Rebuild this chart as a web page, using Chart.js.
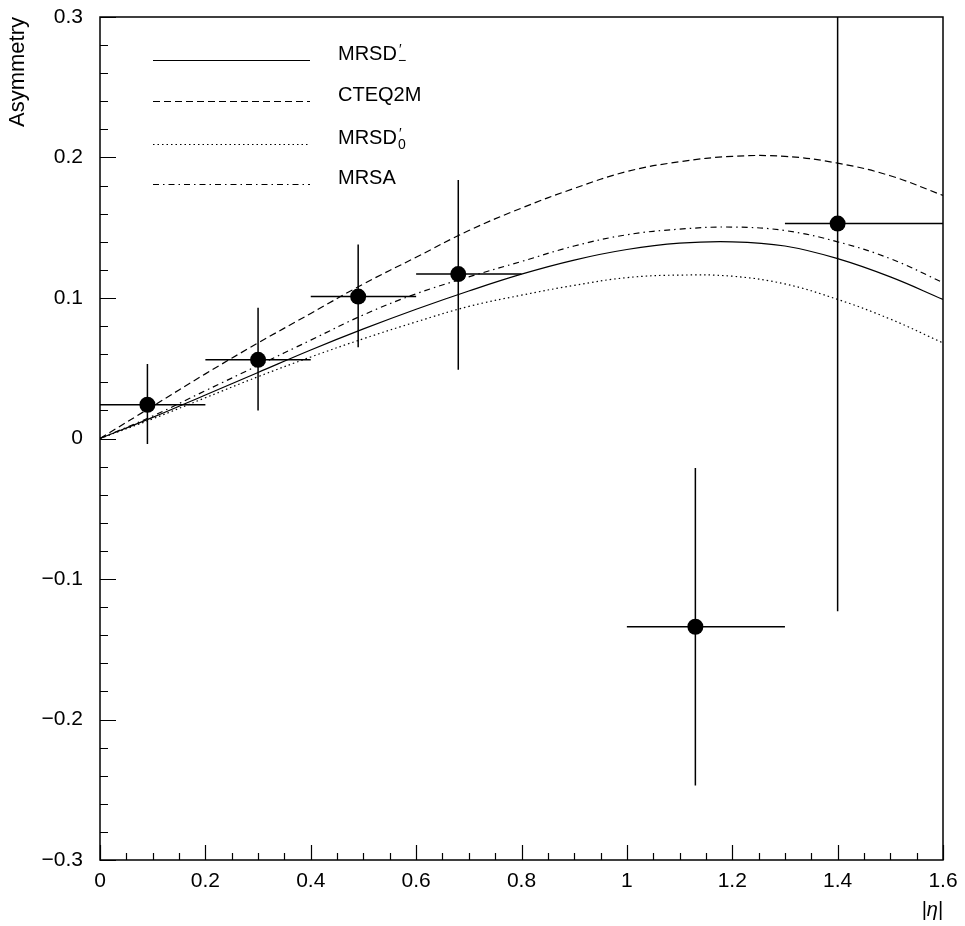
<!DOCTYPE html>
<html>
<head>
<meta charset="utf-8">
<script src="https://cdn.jsdelivr.net/npm/chart.js@4.4.1/dist/chart.umd.min.js"></script>
<style>
  html, body { margin: 0; padding: 0; background: #fff; }
  #wrap { width: 965px; height: 926px; }
</style>
</head>
<body>
<div id="wrap"><canvas id="myChart" width="965" height="926"></canvas></div>
<script>
// Curve grid in |eta|
const etaGrid = [0, 0.1, 0.2, 0.3, 0.4, 0.5, 0.6, 0.7, 0.8, 0.9, 1.0, 1.1, 1.2, 1.3, 1.4, 1.5, 1.6];

// Theory predictions
const mrsdMinus = [0, 0.015, 0.031, 0.047, 0.063, 0.078, 0.092, 0.105, 0.117, 0.127, 0.1345, 0.139, 0.140, 0.137, 0.128, 0.115, 0.099];
const cteq2m    = [0, 0.023, 0.046, 0.068, 0.089, 0.110, 0.129, 0.148, 0.164, 0.178, 0.190, 0.197, 0.2008, 0.2008, 0.196, 0.187, 0.173];
const mrsdZero  = [0, 0.014, 0.029, 0.044, 0.058, 0.071, 0.083, 0.094, 0.102, 0.109, 0.1145, 0.1163, 0.1155, 0.110, 0.099, 0.085, 0.068];
const mrsa      = [0, 0.016, 0.034, 0.052, 0.070, 0.088, 0.103, 0.115, 0.126, 0.137, 0.145, 0.149, 0.1505, 0.148, 0.140, 0.128, 0.111];

// Measured points and errors
const etaPoints = [0.09, 0.30, 0.49, 0.68, 1.13, 1.40];
const asymPoints = [0.024, 0.056, 0.101, 0.117, -0.134, 0.153];
const etaLow  = [0.0, 0.2, 0.4, 0.6, 1.0, 1.3];
const etaHigh = [0.2, 0.4, 0.6, 0.8, 1.3, 1.6];
const asymLow  = [-0.004, 0.020, 0.065, 0.049, -0.247, -0.123];
const asymHigh = [0.053, 0.093, 0.138, 0.184, -0.021, 0.42];

// Tick labels
const xTickValues = [0, 0.2, 0.4, 0.6, 0.8, 1.0, 1.2, 1.4, 1.6];
const xTickLabels = ['0', '0.2', '0.4', '0.6', '0.8', '1', '1.2', '1.4', '1.6'];
const yTickValues = [-0.3, -0.2, -0.1, 0, 0.1, 0.2, 0.3];
const yTickLabels = ['\u22120.3', '\u22120.2', '\u22120.1', '0', '0.1', '0.2', '0.3'];

// Legend text (main, superscript, subscript)
const legendParts = [
    ['MRSD', '\u2032', '\u2212'],
    ['CTEQ2M', '', ''],
    ['MRSD', '\u2032', '0'],
    ['MRSA', '', ''],
];

const FONT = '"Liberation Sans", Arial, sans-serif';

const toXY = (xs, ys) => xs.map((x, i) => ({ x, y: ys[i] }));

const findLabel = (values, labels, v) => {
    const i = values.findIndex(t => Math.abs(t - v) < 1e-6);
    return i >= 0 ? labels[i] : '';
};

const curve = (label, values, dash) => ({
    type: 'line',
    label,
    data: toXY(etaGrid, values),
    borderColor: '#000',
    borderWidth: 1.2,
    borderDash: dash,
    pointRadius: 0,
    fill: false,
    tension: 0.4,
    order: 2,
});

// Error bars, drawn under the markers
const errorBars = {
    id: 'errorBars',
    beforeDatasetsDraw(chart) {
        const { ctx, chartArea, scales: { x, y } } = chart;
        ctx.save();
        ctx.beginPath();
        ctx.rect(chartArea.left, chartArea.top, chartArea.right - chartArea.left, chartArea.bottom - chartArea.top);
        ctx.clip();
        ctx.strokeStyle = '#000';
        ctx.lineWidth = 1.5;
        etaPoints.forEach((eta, i) => {
            const px = x.getPixelForValue(eta);
            const py = y.getPixelForValue(asymPoints[i]);
            ctx.beginPath();
            ctx.moveTo(x.getPixelForValue(etaLow[i]), py);
            ctx.lineTo(x.getPixelForValue(etaHigh[i]), py);
            ctx.moveTo(px, y.getPixelForValue(asymLow[i]));
            ctx.lineTo(px, y.getPixelForValue(asymHigh[i]));
            ctx.stroke();
        });
        ctx.restore();
    }
};

// Frame, inward ticks and legend
const frameAndLegend = {
    id: 'frameAndLegend',
    afterDraw(chart) {
        const { ctx, chartArea: a, scales: { x, y } } = chart;
        ctx.save();
        ctx.strokeStyle = '#000';
        ctx.lineWidth = 1.5;
        ctx.strokeRect(a.left, a.top, a.right - a.left, a.bottom - a.top);

        ctx.lineWidth = 1.2;
        ctx.beginPath();
        x.ticks.forEach(t => {
            const px = Math.round(x.getPixelForValue(t.value)) + 0.5;
            const len = t.label !== '' ? 15 : 7;
            ctx.moveTo(px, a.bottom);
            ctx.lineTo(px, a.bottom - len);
        });
        y.ticks.forEach(t => {
            const py = Math.round(y.getPixelForValue(t.value)) + 0.5;
            const len = t.label !== '' ? 16 : 8;
            ctx.moveTo(a.left, py);
            ctx.lineTo(a.left + len, py);
        });
        ctx.stroke();

        // legend
        const curves = chart.data.datasets.filter(d => d.type === 'line');
        const lineX0 = a.left + 53, lineX1 = a.left + 210, textX = a.left + 238;
        const rowY = [60, 101, 144, 184];
        curves.forEach((d, i) => {
            const yy = rowY[i];
            ctx.beginPath();
            ctx.setLineDash(d.borderDash || []);
            ctx.lineWidth = d.borderWidth;
            ctx.moveTo(lineX0, yy + 0.5);
            ctx.lineTo(lineX1, yy + 0.5);
            ctx.stroke();
            ctx.setLineDash([]);

            const [main, sup, sub] = legendParts[i];
            ctx.fillStyle = '#000';
            ctx.textBaseline = 'alphabetic';
            ctx.textAlign = 'left';
            ctx.font = '20px ' + FONT;
            ctx.fillText(main, textX, yy);
            const w = ctx.measureText(main).width + 1;
            ctx.font = '14px ' + FONT;
            if (sup) ctx.fillText(sup, textX + w + 1, yy - 6);
            if (sub) ctx.fillText(sub, textX + w, yy + 5);
        });
        ctx.restore();
    }
};

const createChart = () => {
    new Chart('myChart', {
        data: {
            datasets: [
                curve("MRSD-'", mrsdMinus, []),
                curve('CTEQ2M', cteq2m, [7, 4]),
                curve("MRSD0'", mrsdZero, [1.5, 3]),
                curve('MRSA', mrsa, [6, 4, 1.5, 4]),
                {
                    type: 'scatter',
                    label: 'Data',
                    data: toXY(etaPoints, asymPoints),
                    backgroundColor: '#000',
                    borderWidth: 0,
                    pointRadius: 8,
                    order: 1,
                },
            ],
        },
        options: {
            responsive: false,
            animation: false,
            layout: { padding: { top: 17, right: 22, left: 0, bottom: 0 } },
            plugins: {
                legend: { display: false },
                tooltip: { enabled: false },
            },
            scales: {
                x: {
                    type: 'linear',
                    min: 0,
                    max: 1.6,
                    grid: { display: false, drawTicks: false },
                    border: { display: false },
                    ticks: {
                        stepSize: 0.05,
                        autoSkip: false,
                        maxRotation: 0,
                        padding: 9,
                        color: '#000',
                        font: { family: FONT, size: 21 },
                        callback: (v) => findLabel(xTickValues, xTickLabels, v),
                    },
                    title: {
                        display: true,
                        text: '|\u03b7|',
                        align: 'end',
                        color: '#000',
                        font: { family: FONT, size: 20, style: 'italic' },
                        padding: { top: 0, bottom: 4 },
                    },
                    afterFit: (scale) => {
                        scale.height = 66;
                        scale.paddingLeft = 0;
                        scale.paddingRight = 0;
                    },
                },
                y: {
                    type: 'linear',
                    min: -0.3,
                    max: 0.3,
                    grid: { display: false, drawTicks: false },
                    border: { display: false },
                    ticks: {
                        stepSize: 0.02,
                        autoSkip: false,
                        padding: 17,
                        color: '#000',
                        font: { family: FONT, size: 21 },
                        callback: (v) => findLabel(yTickValues, yTickLabels, v),
                    },
                    title: {
                        display: true,
                        text: 'Asymmetry',
                        align: 'end',
                        color: '#000',
                        font: { family: FONT, size: 22 },
                        padding: { top: 5, bottom: 0 },
                    },
                    afterFit: (scale) => {
                        scale.width = 100;
                        scale.paddingTop = 0;
                        scale.paddingBottom = 0;
                    },
                },
            },
        },
        plugins: [errorBars, frameAndLegend],
    });
};

createChart();
</script>
</body>
</html>
